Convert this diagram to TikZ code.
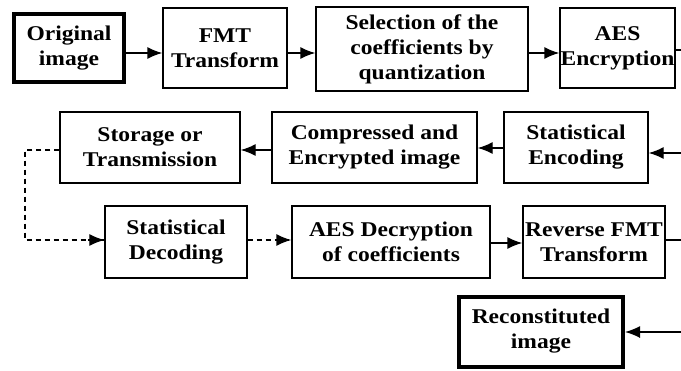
\documentclass[tikz,border=0pt]{standalone}
\usepackage{fontspec}
\setmainfont{Liberation Serif}[FakeStretch=1.12]
\usetikzlibrary{arrows.meta,calc}
\begin{document}
\begin{tikzpicture}[x=1pt,y=-1pt,
  box/.style={draw,line width=1.4pt,inner sep=0pt,align=center,font=\fontsize{21}{25}\selectfont\bfseries},
  thickbox/.style={box,line width=4pt},
  arr/.style={line width=1.4pt,-{Latex[length=15pt,width=12pt]}},
  dsh/.style={line width=1.2pt,dash pattern=on 5pt off 4pt}]
\useasboundingbox (0,0) rectangle (681,370);
\fill[white] (0,0) rectangle (681,370);
\node[thickbox,minimum width=110pt,minimum height=68pt] (orig) at (69,48) {Original\\image};
\node[box,minimum width=124pt,minimum height=80pt] (fmt) at (225,48) {FMT\\Transform};
\node[box,minimum width=212pt,minimum height=84pt] (sel) at (422,49) {Selection of the\\coefficients by\\quantization};
\node[box,minimum width=115pt,minimum height=80pt] (aes) at (617.5,48) {AES\\Encryption};
\node[box,minimum width=180pt,minimum height=71pt] (stor) at (150,147.5) {Storage or\\Transmission};
\node[box,minimum width=205pt,minimum height=71pt] (comp) at (374.5,147.5) {Compressed and\\Encrypted image};
\node[box,minimum width=144pt,minimum height=71pt] (senc) at (576,147.5) {Statistical\\Encoding};
\node[box,minimum width=142pt,minimum height=72pt] (sdec) at (176,242) {Statistical\\Decoding};
\node[box,minimum width=198pt,minimum height=72pt] (adec) at (391,242) {AES Decryption\\of coefficients};
\node[box,minimum width=142pt,minimum height=72pt] (rfmt) at (594,242) {Reverse FMT\\Transform};
\node[thickbox,minimum width=164pt,minimum height=70pt] (rec) at (541,331.5) {Reconstituted\\image};
\coordinate (e1) at (681,50);
\coordinate (e2) at (681,153);
\coordinate (e3) at (681,240);
\coordinate (e4) at (681,332);
\coordinate (d1) at (25,150);
\coordinate (d2) at (25,240);
\draw[arr] (orig.east |- 0,53) -- (fmt.west |- 0,53);
\draw[arr] (fmt.east |- 0,53) -- (sel.west |- 0,53);
\draw[arr] (sel.east |- 0,53) -- (aes.west |- 0,53);
\draw[line width=1.4pt] (aes.east |- e1) -- (e1);
\draw[arr] (e2) -- (senc.east |- e2);
\draw[arr] (senc.west |- 0,148) -- (comp.east |- 0,148);
\draw[arr] (comp.west |- 0,150) -- (stor.east |- 0,150);
\draw[dsh] (stor.west |- d1) -- (d1) -- (d2) -- (sdec.west |- d2);
\draw[arr,line width=1.2pt] ($(sdec.west |- d2)+(-16,0)$) -- (sdec.west |- d2);
\draw[dsh] (sdec.east |- 0,240) -- (adec.west |- 0,240);
\draw[arr] ($(adec.west |- 0,240)+(-16,0)$) -- (adec.west |- 0,240);
\draw[arr] (adec.east |- 0,243) -- (rfmt.west |- 0,243);
\draw[line width=1.4pt] (rfmt.east |- e3) -- (e3);
\draw[arr] (e4) -- (rec.east |- e4);
\end{tikzpicture}
\end{document}
